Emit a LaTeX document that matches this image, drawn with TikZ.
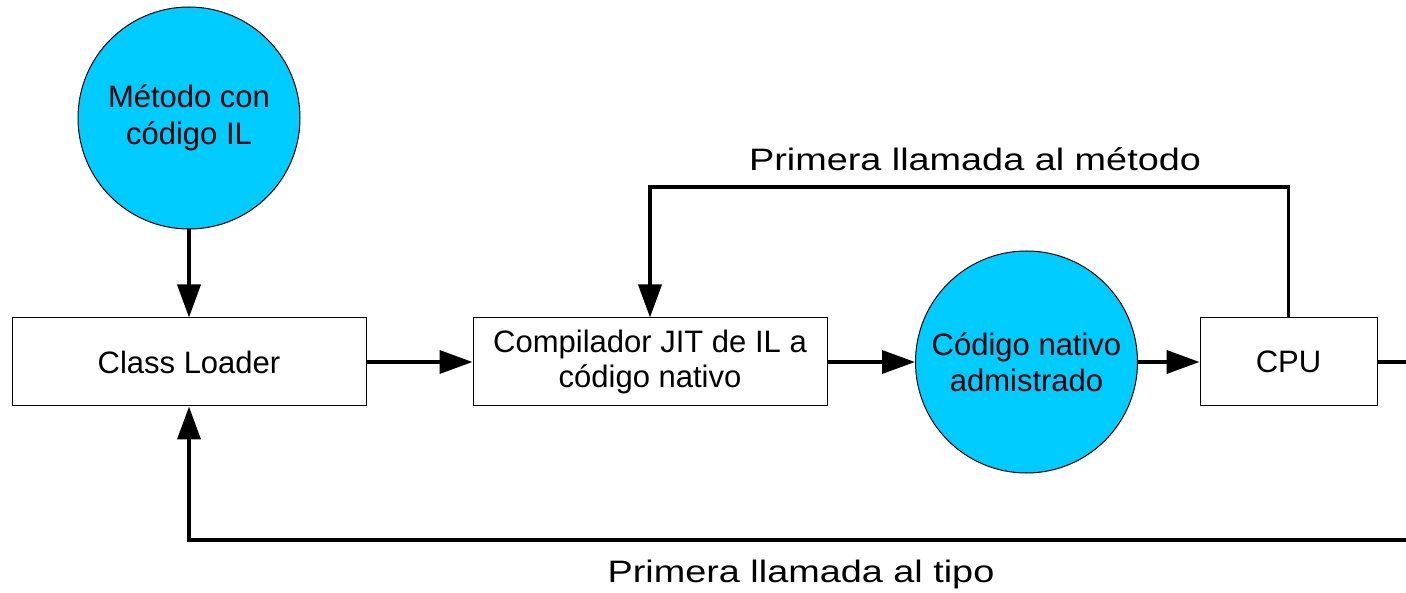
\documentclass[tikz,border=0pt]{standalone}
\usepackage{fontspec}
\setmainfont{Liberation Sans}
\usepackage{graphicx}
\usetikzlibrary{arrows.meta}
\definecolor{cyanfill}{HTML}{00CCFF}
\begin{document}
\begin{tikzpicture}[x=1pt,y=-1pt,
  box/.style={draw=black, line width=1pt, minimum width=354pt, minimum height=88pt, inner sep=0pt, align=center, font=\fontsize{31}{35.5}\selectfont},
  disc/.style={circle, draw=black, line width=1pt, fill=cyanfill, minimum size=222pt, inner sep=0pt, align=center, font=\fontsize{31}{36.5}\selectfont},
  conn/.style={line width=3.8pt, -{Triangle[length=33pt,width=23pt]}},
  lbl/.style={font=\fontsize{31}{36}\selectfont, anchor=base, inner sep=0pt}
]
\useasboundingbox (0,0) rectangle (1406,593);
\clip (0,0) rectangle (1406,593);
\node[disc] (m) at (189,118) {Método con\\código IL};
\node[box] (cl) at (189,362) {Class Loader};
\node[box] (jit) at (650,362) {Compilador JIT de IL a\\código nativo};
\node[disc] (nat) at (1026.5,362) {Código nativo\\admistrado};
\node[box, minimum width=177pt] (cpu) at (1288.5,362) {CPU};
\coordinate (tr) at (1288.5,187);
\coordinate (tl) at (650,187);
\coordinate (r1) at (1440,362);
\coordinate (r2) at (1440,540);
\coordinate (bl) at (189,540);
\draw[conn] (m) -- (cl);
\draw[conn] (cl) -- (jit);
\draw[conn] (jit) -- (nat);
\draw[conn] (nat) -- (cpu);
\draw[conn] (cpu.north) -- (tr) -- (tl) -- (jit.north);
\draw[conn] (cpu.east) -- (r1) -- (r2) -- (bl) -- (cl.south);
\node[lbl] (l1) at (975,171) {\scalebox{1.22}[1]{Primera llamada al método}};
\node[lbl] (l2) at (801,582) {\scalebox{1.22}[1]{Primera llamada al tipo}};
\end{tikzpicture}
\end{document}
